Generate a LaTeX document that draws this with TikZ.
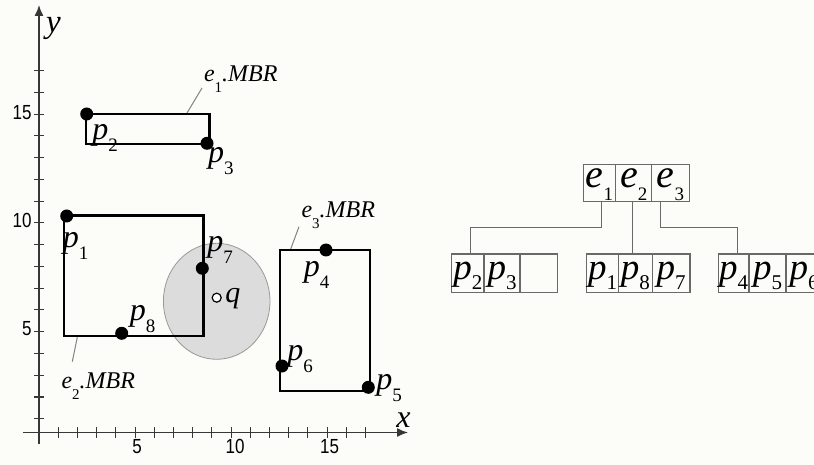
\documentclass[tikz,border=0pt]{standalone}
\usepackage{fontspec}
\setmainfont{Liberation Serif}
\newfontfamily\ticksf{Liberation Sans}
\usetikzlibrary{arrows.meta}
\definecolor{bg}{RGB}{252,252,248}
\definecolor{axisc}{RGB}{55,55,55}
\definecolor{treec}{RGB}{105,105,105}
\definecolor{discc}{RGB}{220,220,220}
\definecolor{leadc}{RGB}{130,130,130}
\newcommand{\sx}[4]{\textit{#1}\raisebox{-#2}{\fontsize{#3}{#3}\selectfont #4}}
\newcommand{\lp}[1]{\sx{p}{12pt}{19}{#1}}
\newcommand{\te}[1]{\sx{e}{13pt}{19}{#1}}
\newcommand{\tp}[1]{\sx{p}{10pt}{21}{#1}}
\newcommand{\tk}[1]{\scalebox{1}[1.2]{#1}}
\begin{document}
\begin{tikzpicture}[x=1pt,y=-1pt,
  dot/.style={circle,fill=black,inner sep=0,minimum size=13pt},
  opendot/.style={circle,draw=black,fill=white,line width=1.2pt,inner sep=0,minimum size=9pt},
  ptlab/.style={inner sep=0,font=\fontsize{32}{32}\selectfont},
  mbrlab/.style={inner sep=0,font=\fontsize{24}{24}\selectfont},
  mbr/.style={draw=black,line width=2.4pt,line join=miter},
  axis/.style={draw=axisc,line width=1.3pt},
  tickmark/.style={draw=axisc,line width=1.1pt},
  ticklab/.style={inner sep=0,font=\ticksf\fontsize{17}{17}\selectfont},
  leader/.style={draw=leadc,line width=1pt},
  cell/.style={draw=treec,line width=1.1pt,inner sep=0},
  rootcell/.style={cell,text height=23.7pt,text depth=13.7pt,font=\fontsize{40}{40}\selectfont},
  leafcell/.style={cell,text height=25.2pt,text depth=13.5pt,font=\fontsize{37}{37}\selectfont},
  link/.style={draw=treec,line width=1.1pt}]
\clip (0,0) rectangle (814,465);
\fill[bg] (0,0) rectangle (814,465);

% axes
\foreach \k in {1,...,17} \draw[tickmark] (34,{440.5-21.76*\k}) -- (44,{440.5-21.76*\k});
\foreach \k in {1,...,17} \draw[tickmark] ({39.1+19.2*\k},427) -- ({39.1+19.2*\k},438);
\draw[axis,-{Latex[length=11pt,width=9pt]}] (39,444) -- (39,5);
\draw[axis,-{Latex[length=11pt,width=9pt]}] (23,432.5) -- (408,432.5);
\node[inner sep=0,font=\fontsize{33}{33}\selectfont\itshape] (ylab) at (53.5,28) {y};
\node[inner sep=0,font=\fontsize{32}{32}\selectfont\itshape] (xlab) at (403.5,420) {x};
\node[ticklab,anchor=east] (t15) at (31.7,112.5) {\tk{15}};
\node[ticklab,anchor=east] (t10) at (31.7,220.5) {\tk{10}};
\node[ticklab,anchor=east] (t5) at (31.7,329) {\tk{5}};
\node[ticklab] (s5) at (137,446.7) {\tk{5}};
\node[ticklab] (s10) at (235,446.7) {\tk{10}};
\node[ticklab] (s15) at (329.5,446.7) {\tk{15}};

% query disc
\draw[fill=discc,draw=gray!80,line width=0.8pt] (216.7,301.3) ellipse [x radius=53.3pt, y radius=58pt];

% MBRs
\draw[mbr] (86,114) rectangle (209.3,144.3);
\draw[mbr] (64,215.7) rectangle (203.3,336);
\draw[mbr] (280,250) rectangle (370,391);

% points
\node[dot] (d1) at (66.7,216) {};
\node[dot] (d2) at (86.7,114) {};
\node[dot] (d3) at (207,143.3) {};
\node[dot] (d4) at (326,250) {};
\node[dot] (d5) at (368.3,387.3) {};
\node[dot] (d6) at (282,366) {};
\node[dot] (d7) at (202.3,268.3) {};
\node[dot] (d8) at (121.7,333.3) {};
\node[opendot] (q) at (216.7,297.7) {};

\node[ptlab] (l1) at (75.7,245.8) {\lp{1}};
\node[ptlab] (l2) at (105,138.3) {\lp{2}};
\node[ptlab] (l3) at (220.8,160.8) {\lp{3}};
\node[ptlab] (l4) at (316.7,274.5) {\lp{4}};
\node[ptlab] (l5) at (389,388.3) {\lp{5}};
\node[ptlab] (l6) at (300,359) {\lp{6}};
\node[ptlab] (l7) at (220,250) {\lp{7}};
\node[ptlab] (l8) at (142.5,319) {\lp{8}};
\node[inner sep=0,font=\fontsize{30}{30}\selectfont\itshape] (ql) at (232.8,298.3) {q};

% MBR labels
\node[mbrlab] (m1) at (240.8,79) {\sx{e}{11pt}{15}{1}\textit{.MBR}};
\node[mbrlab] (m2) at (98.3,385.8) {\sx{e}{11pt}{15}{2}\textit{.MBR}};
\node[mbrlab] (m3) at (338.3,215) {\sx{e}{11pt}{15}{3}\textit{.MBR}};
\coordinate (a1) at (202,88);  \coordinate (b1) at (187,113);
\coordinate (a2) at (72.3,361.7); \coordinate (b2) at (77.3,337.3);
\coordinate (a3) at (299,226.7); \coordinate (b3) at (290.7,249);
\draw[leader] (a1) -- (b1);
\draw[leader] (a2) -- (b2);
\draw[leader] (a3) -- (b3);

% tree
\node[rootcell,minimum width=32.4pt] (r1) at (599.5,183) {\te{1}};
\node[rootcell,minimum width=36pt] (r2) at (633.7,183) {\te{2}};
\node[rootcell,minimum width=37.6pt] (r3) at (670.5,183) {\te{3}};

\node[leafcell,minimum width=32.3pt] (l1a) at (467.85,273.35) {\tp{2}};
\node[leafcell,minimum width=36pt] (l1b) at (502,273.35) {\tp{3}};
\node[leafcell,minimum width=37.3pt] (l1c) at (538.65,273.35) {};

\node[leafcell,minimum width=31.6pt] (l2a) at (602.5,273.35) {\tp{1}};
\node[leafcell,minimum width=34pt] (l2b) at (635.3,273.35) {\tp{8}};
\node[leafcell,minimum width=37.7pt] (l2c) at (671.15,273.35) {\tp{7}};

\node[leafcell,minimum width=30.7pt] (l3a) at (733.65,273.35) {\tp{4}};
\node[leafcell,minimum width=37pt] (l3b) at (767.5,273.35) {\tp{5}};
\node[leafcell,minimum width=36pt] (l3c) at (804,273.35) {\tp{6}};

\draw[link] ([xshift=2.2pt]r1.south) -- ++(0,25.6) -| ([xshift=2.9pt]l1a.north);
\draw[link] ([xshift=-1pt]r2.south) -- ([xshift=-1pt]r2.south |- l2b.north);
\draw[link] ([xshift=-9.8pt]r3.south) -- ++(0,25.6) -| ([xshift=3.7pt]l3a.north);
\end{tikzpicture}
\end{document}
